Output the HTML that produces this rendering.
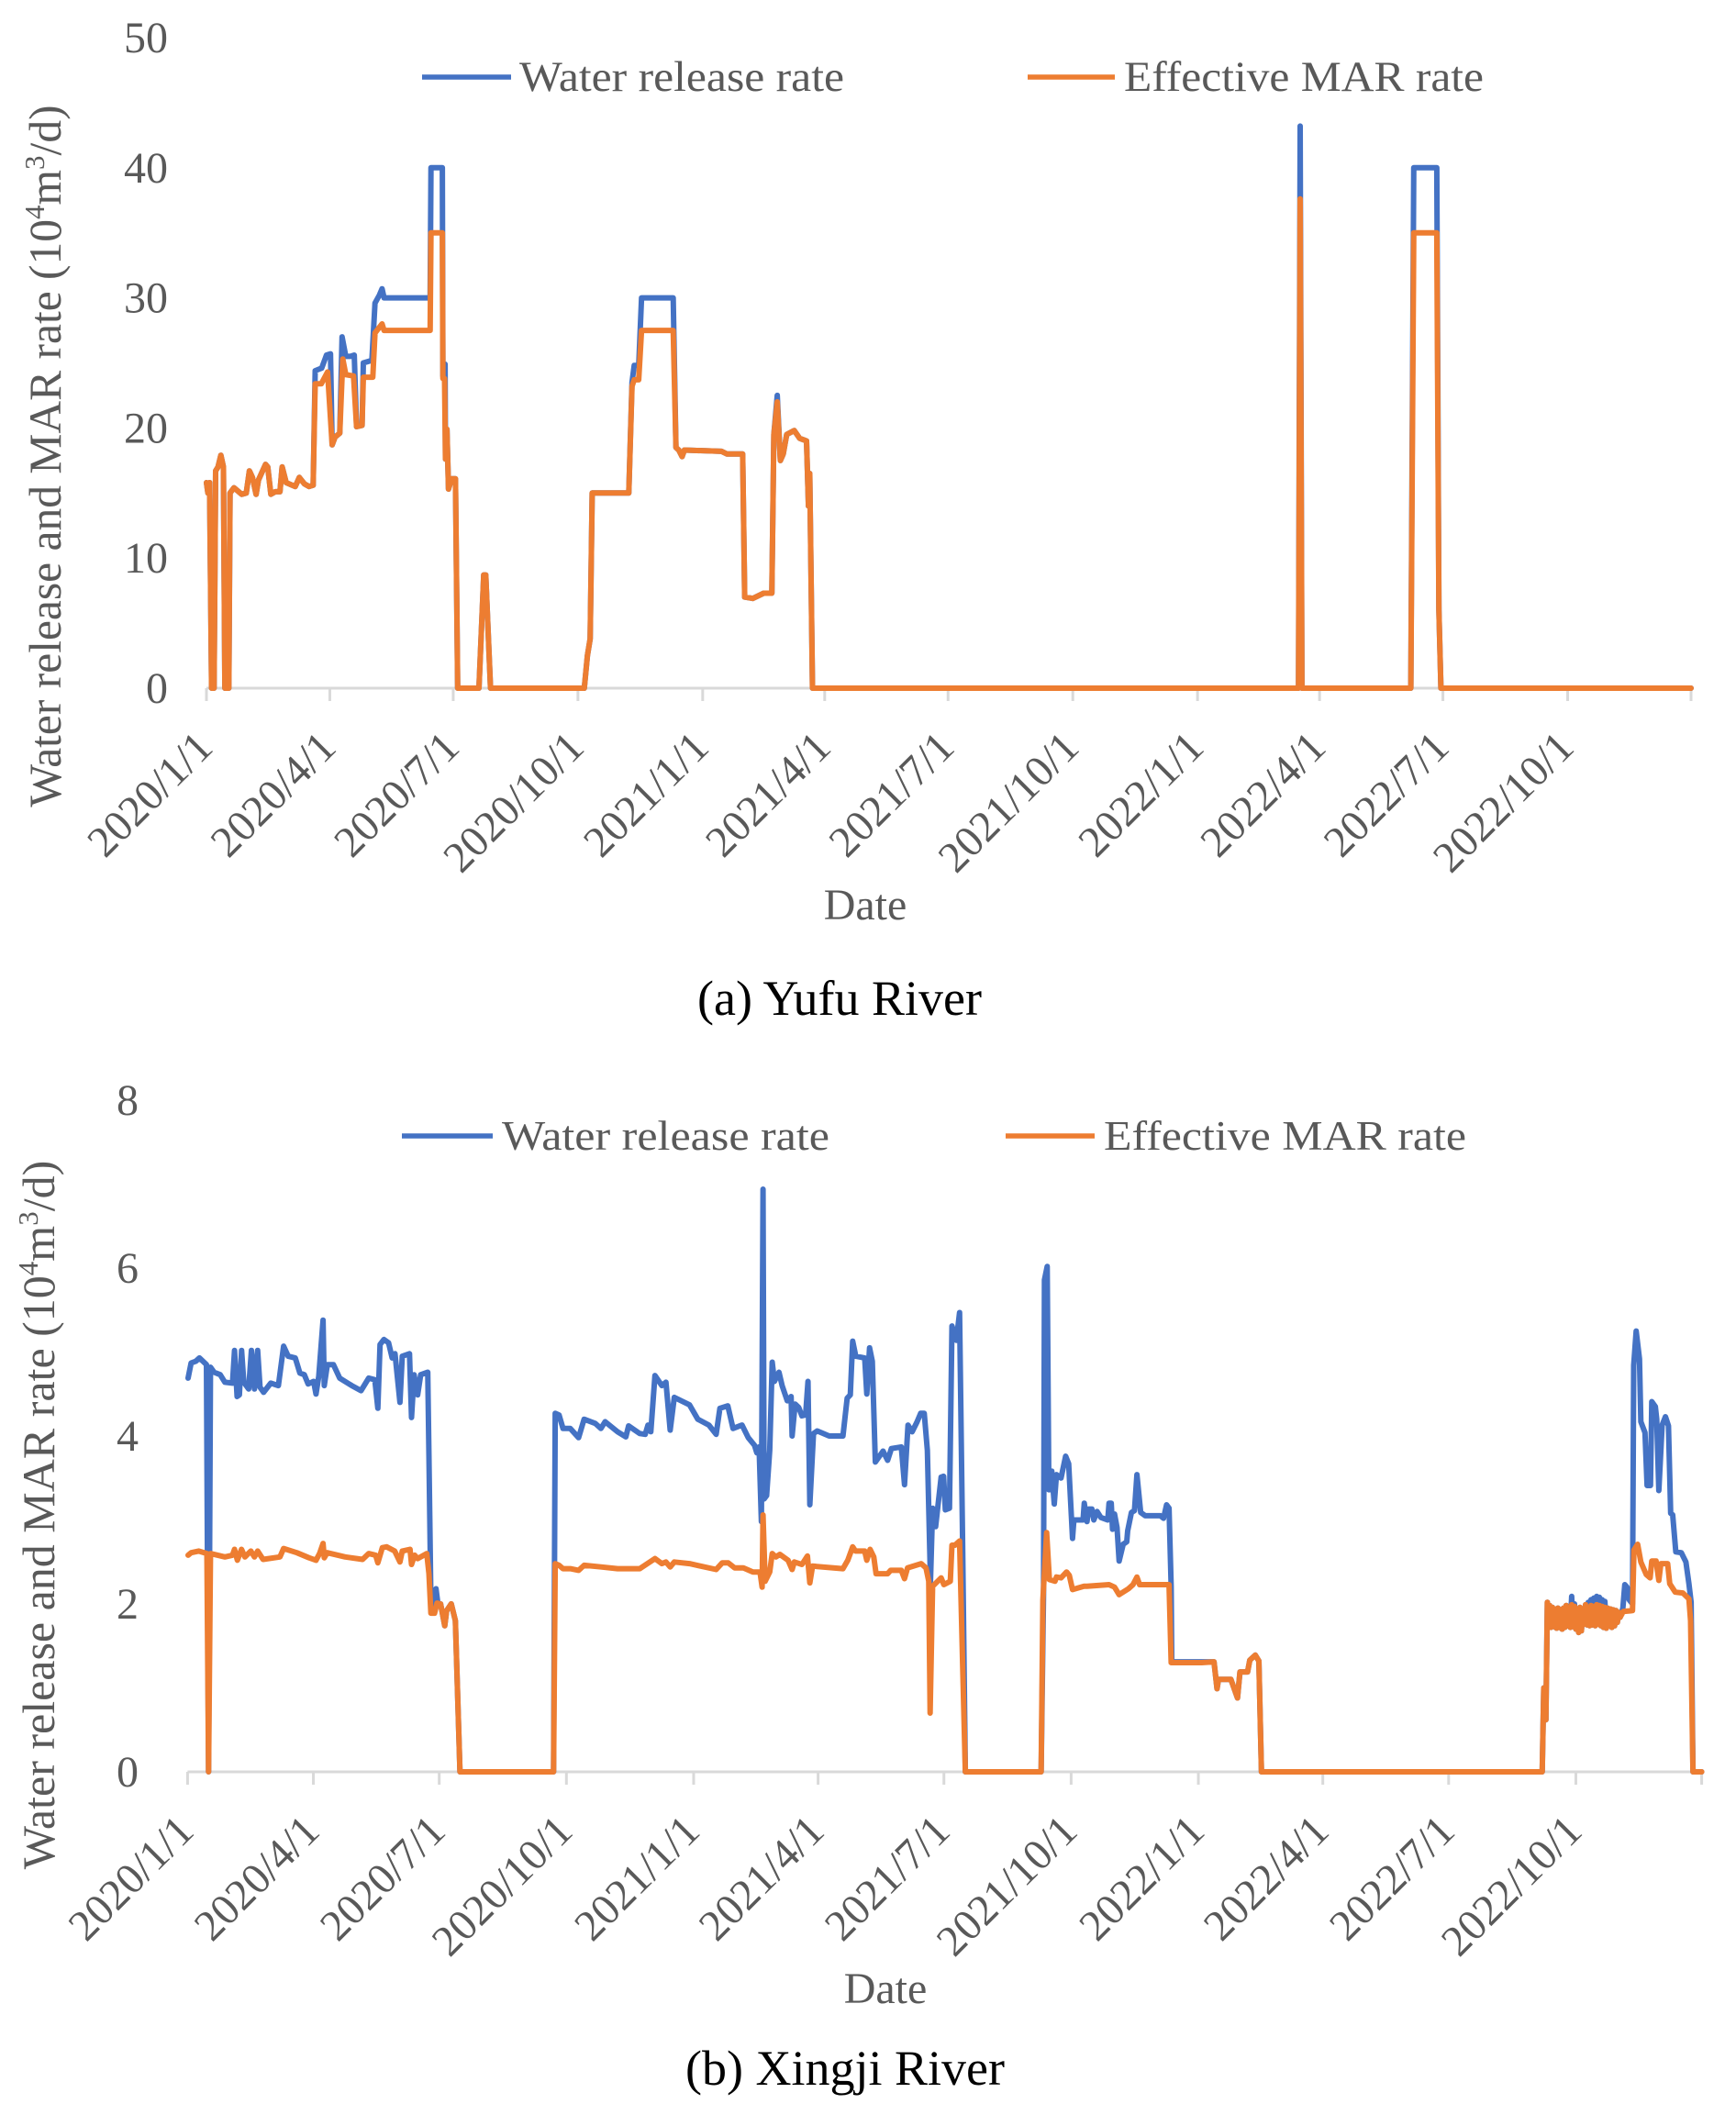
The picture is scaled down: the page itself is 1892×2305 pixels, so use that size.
<!DOCTYPE html>
<html lang="en">
<head>
<meta charset="utf-8">
<title>Water release and effective MAR rate</title>
<style>
html,body{margin:0;padding:0;background:#fff;}
svg{display:block;}
text{font-family:"Liberation Serif",serif;fill:#595959;}
.caption{fill:#000;}
</style>
</head>
<body>
<svg id="figure" xmlns="http://www.w3.org/2000/svg" width="1892" height="2305" viewBox="0 0 1892 2305">
  <rect width="1892" height="2305" fill="#fff"/>
  <g id="chart-a"></g>
  <g id="chart-b"></g>

  <g>
    <line x1="460" x2="557" y1="84" y2="84" stroke="#4472c4" stroke-width="5.5"/>
    <text x="566" y="99" font-size="47" textLength="354" lengthAdjust="spacingAndGlyphs">Water release rate</text>
    <line x1="1120" x2="1215" y1="84" y2="84" stroke="#ed7d31" stroke-width="5.5"/>
    <text x="1225" y="99" font-size="47" textLength="392" lengthAdjust="spacingAndGlyphs">Effective MAR rate</text>
  </g>
  <text x="51" y="497" font-size="49.5" text-anchor="middle" transform="rotate(-90 51 497) translate(0 15)">Water release and MAR rate (10<tspan font-size="31" dy="-18">4</tspan><tspan dy="18">m</tspan><tspan font-size="31" dy="-18">3</tspan><tspan dy="18">/d)</tspan></text>
  <text x="943" y="1002" font-size="48" text-anchor="middle">Date</text>
  <text class="caption" x="915" y="1106" font-size="54" text-anchor="middle">(a) Yufu River</text>

  <g>
    <line x1="438" x2="537" y1="1238" y2="1238" stroke="#4472c4" stroke-width="5.5"/>
    <text x="547" y="1253" font-size="45" textLength="357" lengthAdjust="spacingAndGlyphs">Water release rate</text>
    <line x1="1096" x2="1193" y1="1238" y2="1238" stroke="#ed7d31" stroke-width="5.5"/>
    <text x="1203" y="1253" font-size="45" textLength="395" lengthAdjust="spacingAndGlyphs">Effective MAR rate</text>
  </g>
  <text x="44" y="1651" font-size="50" text-anchor="middle" transform="rotate(-90 44 1651) translate(0 15)">Water release and MAR rate (10<tspan font-size="31" dy="-18">4</tspan><tspan dy="18">m</tspan><tspan font-size="31" dy="-18">3</tspan><tspan dy="18">/d)</tspan></text>
  <text x="965" y="2183" font-size="48" text-anchor="middle">Date</text>
  <text class="caption" x="921" y="2272" font-size="54" text-anchor="middle">(b) Xingji River</text>
</svg>

<script>
// ---- shared category labels (quarter starts on the date axis) ----
const xTickLabels = ["2020/1/1","2020/4/1","2020/7/1","2020/10/1","2021/1/1","2021/4/1","2021/7/1","2021/10/1","2022/1/1","2022/4/1","2022/7/1","2022/10/1"];
const lastDay = 1095;

// ---- (a) Yufu River: days since 2020-01-01 and rates (10^4 m3/d) ----
const yufuTicks = [0,10,20,30,40,50];
const yufuReleaseDays = [0,1.1,2.3,3.8,5.6,6.8,8.5,10.6,12.5,13.6,16.5,17.4,20.3,26,29.4,31.7,33.9,36.6,38.4,43.6,45.2,47.5,50.8,54.2,55.8,58.8,65.5,68.5,72.3,75.7,78.7,80.2,85,88.5,91.5,92.7,94.9,98.3,100,102.8,106,109,110.7,114.8,115.7,122,124.3,127.5,129.5,131,165,165.6,174,174.4,175.6,176,176.3,177.4,178.5,180.8,183.7,185.3,201,204.5,206,209.5,278.7,281,283,284.5,311.5,313.9,315.5,318.8,320.9,344.3,346.3,348.4,350.8,352.5,380,384,395.5,397,403,411,417,418.5,421,423.3,425.4,428,433.5,437.5,442.6,444,445,447,805.5,806.7,808,888.3,890.5,907.5,909,910.5,1095];
const yufuReleaseValues = [15.8,15,15.8,0,0,16.7,17,17.9,17,0,0,15,15.4,14.9,15,16.7,16.2,14.9,16,17.2,17,14.9,15.1,15.1,17,15.8,15.5,16.2,15.7,15.5,15.6,24.4,24.6,25.6,25.7,18.7,19.3,19.6,27,25.5,25.5,25.6,20.1,20.2,25,25.2,29.6,30.2,30.7,30,30,40,40,24,24,24.9,17.6,19.9,15.3,16.1,16.1,0,0,8.7,8.7,0,0,2.5,3.8,15,15,23.5,24.8,24.8,30,30,18.5,18.3,17.8,18.3,18.2,18,18,7,6.9,7.3,7.3,19.5,22.5,17.5,18,19.5,19.8,19.2,19,14,16.5,0,0,43.2,0,0,40,40,6,0,0];
const yufuMarDays = [0,1.1,2.3,3.8,5.6,6.8,8.5,10.6,12.5,13.6,16.5,17.4,20.3,26,29.4,31.7,33.9,36.6,38.4,43.6,45.2,47.5,50.8,54.2,55.8,58.8,65.5,68.5,72.3,75.7,78.7,80.2,84.7,89.3,92.7,94.9,98.3,100.6,102.8,108.5,110.7,114.8,115.7,122.7,124.3,129.5,131,165,165.6,174,174.4,175.6,176.3,177.4,178.5,180.8,183.7,185.3,201,204.5,206,209.5,278.7,281,283,284.5,311.5,313.9,315.5,318.8,320.9,344.3,346.3,348.4,350.8,352.5,380,384,395.5,397,403,411,417,418.5,421,423.3,425.4,428,433.5,437.5,442.6,444,445,447,805.5,806.7,808,888.3,890.5,907.5,909,910.5,1095];
const yufuMarValues = [15.8,15,15.8,0,0,16.7,17,17.9,17,0,0,15,15.4,14.9,15,16.7,16.2,14.9,16,17.2,17,14.9,15.1,15.1,17,15.8,15.5,16.2,15.7,15.5,15.6,23.4,23.4,24.3,18.7,19.3,19.6,25.3,24.1,24,20.1,20.2,23.9,23.9,27.3,28,27.5,27.5,35,35,23.8,23.8,17.6,19.9,15.3,16.1,16.1,0,0,8.7,8.7,0,0,2.5,3.8,15,15,23.2,23.7,23.7,27.5,27.5,18.5,18.3,17.8,18.3,18.2,18,18,7,6.9,7.3,7.3,19.5,22,17.5,18,19.5,19.8,19.2,19,14,16.5,0,0,37.6,0,0,35,35,6,0,0];

// ---- (b) Xingji River ----
const xingjiTicks = [0,2,4,6,8];
const xingjiReleaseDays = [0.4,2.6,5.9,8.6,13.7,15.2,16.6,19.2,23.6,27,32.5,34,35.8,37.5,39.1,40.7,44.2,46.2,48.4,50.7,52.4,55,60.2,65.7,69.5,72.8,77.9,81.2,84.5,87.2,91.2,92.9,94.9,98,98.9,101.1,105.5,110,118.8,125.5,131,135.4,137.6,139.2,142,145.4,148,150,153.6,155.3,160.5,162,163.8,166.4,168.6,173.7,174.6,176,178,179.7,181,183,186,187.4,190.7,193.7,197,264.7,265.9,268.7,271.5,276.8,282.8,286.8,294.9,298.9,302,311,317,319,327,331,333,335,338,343,346,349,352,363,369,377,382.3,385,390.7,394.5,401,405.5,410,411.7,413.3,415,416.2,417,418.8,421,422.8,424.4,427.7,430,433.7,436.5,437.2,439.4,442,444.3,447,448.7,450,452.7,455.4,464,474,477,479.3,481,483.3,489.7,491.2,493.2,495.2,497.4,503,506.3,509,516.2,518.5,521,524,527.3,530.2,532.8,535,537.3,538.8,541,545,546.8,548,551,552.8,556,558.3,560.5,562.5,616,617.3,619,619.7,621.7,622.9,625,626.8,628.4,631.7,635,637.2,640,641,647.6,648.5,650.5,651.6,654,655.4,657.8,660.5,665.5,666.4,668,668.9,670.4,672.2,673.7,676.6,679.2,679.9,682.6,684.8,686.6,689.3,692.6,703.6,705.8,708,709.8,711.3,711.8,742.3,744.5,745.6,754.5,759.3,761.1,766.6,768.2,772.2,774.8,776.6,979.7,980.8,982.3,983.4,984,985,986,987,988,989,990,991,992,993,994,995,996,997,998,999,1000,1001,1002,1003,1004,1005,1006,1007,1008,1009,1010,1011,1012,1013,1014,1015,1016,1017,1018,1019,1020,1021,1022,1023,1024,1025,1026,1027,1028,1029,1030,1031,1032,1033,1034,1035,1036,1038,1039.4,1041,1042.5,1045,1045.8,1047.6,1050,1051,1054,1055.5,1058,1058.9,1061.5,1062.5,1064,1066.4,1068.8,1071,1072.6,1074,1076.3,1080.3,1083.6,1085.8,1087.4,1088.7,1095];
const xingjiReleaseValues = [4.69,4.87,4.89,4.93,4.85,0,4.82,4.76,4.73,4.64,4.63,5.02,4.47,4.49,5.02,4.64,4.56,5.02,4.56,5.02,4.58,4.52,4.63,4.6,5.07,4.95,4.93,4.75,4.73,4.62,4.65,4.5,4.71,5.38,4.6,4.85,4.85,4.69,4.6,4.54,4.69,4.67,4.33,5.09,5.15,5.11,4.93,4.98,4.4,4.95,4.98,4.22,4.73,4.49,4.73,4.76,3.76,2.05,1.95,2.18,2.01,2,1.74,1.92,2,1.8,0,0,4.27,4.25,4.09,4.09,3.98,4.2,4.15,4.09,4.17,4.05,3.99,4.12,4.03,4.02,4.13,4.05,4.72,4.6,4.64,4.07,4.46,4.37,4.2,4.13,4.02,4.33,4.36,4.09,4.13,3.98,3.89,3.8,3.87,2.98,6.94,3.25,3.29,3.83,4.88,4.65,4.76,4.6,4.42,4.47,4,4.38,4.34,4.24,4.25,4.65,3.18,4.03,4.06,4,4,4.45,4.49,5.13,4.95,4.93,4.5,5.05,4.89,3.69,3.82,3.71,3.85,3.87,3.42,4.13,4.05,4.16,4.27,4.27,3.83,2.27,3.14,2.92,3.51,3.52,3.12,3.14,5.31,5.14,5.47,2.74,0,0,0,2.12,5.86,6.02,3.36,3.58,3.19,3.54,3.5,3.76,3.67,2.78,3,3,3.2,2.98,3.13,3.13,3,3.1,3.03,3,3.2,3.2,2.89,3.07,2.91,2.51,2.71,2.74,2.87,3.09,3.11,3.54,3.09,3.05,3.05,3.02,3.18,3.14,2.21,1.31,1.31,0.99,1.1,1.1,0.88,1.19,1.19,1.33,1.39,1.32,0,0,1,0.62,2.02,1.72,1.98,1.72,1.96,1.73,1.94,1.71,1.95,1.72,1.93,1.7,1.95,1.72,1.98,1.74,1.96,1.72,2.09,1.73,2,1.7,1.94,1.66,1.96,1.68,1.92,1.76,1.99,1.75,2.02,1.74,2.05,1.75,2.07,1.74,2.09,1.76,2.08,1.74,2.05,1.72,2.03,1.71,1.95,1.74,1.94,1.72,1.93,1.74,1.92,1.78,1.9,1.84,1.95,2.23,2.2,2.05,2,4.84,5.25,4.92,4.17,4.04,3.41,3.41,4.41,4.35,4.2,3.35,4.13,4.23,4.12,3.08,3.06,2.62,2.61,2.5,2.24,2.02,0,0];
const xingjiMarDays = [0.4,2.6,8,14,15.2,16.6,27,32.5,34,36,39,41.5,45.8,48.4,50.7,54.6,66.8,69.5,79,87.8,92.9,95.5,98,98.9,101,114,126.6,131,136,137.6,140.9,144,149.8,153.6,155.3,160.9,162,164.2,166.4,173,174.6,176,178.6,180.4,183,186,187.4,190.7,193.7,197,264.7,265.9,268.7,271.5,276.8,282.8,286.8,298.9,311,327,338,343,346,349,352,363,382.3,386.7,391,395.6,402,408.9,414,415.5,416.2,417.7,421,422.8,425.5,428.3,434.3,437.2,438.8,444.3,448.3,450,452,474,477.5,481,483,489.7,491.2,493.6,496.3,497.9,506.3,508.5,516.2,518.5,520.7,530.6,534,536,537,538.8,545,547,551.6,552.8,555,558.3,560.5,562.5,616,617.3,618.6,621.3,623.3,627.3,628.4,631.7,635.7,637.7,640,648.3,650.5,666.4,670.4,673.7,680.4,683.7,686.6,688.5,709.8,711.3,733.4,742.3,744.5,745.6,754.5,759.3,761.1,766.6,768.2,772.2,774.8,776.6,979.7,980.8,982.3,983.4,984,985,986,987,988,989,990,991,992,993,994,995,996,997,998,999,1000,1001,1002,1003,1004,1005,1006,1007,1008,1009,1010,1011,1012,1013,1014,1015,1016,1017,1018,1019,1020,1021,1022,1023,1024,1025,1026,1027,1028,1029,1030,1031,1032,1033,1034,1035,1036,1038.3,1045,1046,1048.7,1051,1054.9,1057.7,1058.9,1062,1064,1065.5,1070.4,1071.9,1075.9,1081.4,1085.8,1087,1088.7,1095];
const xingjiMarValues = [2.58,2.61,2.63,2.6,0,2.6,2.56,2.58,2.65,2.52,2.65,2.56,2.63,2.56,2.63,2.53,2.56,2.66,2.61,2.55,2.52,2.6,2.72,2.55,2.61,2.56,2.53,2.6,2.58,2.49,2.67,2.68,2.63,2.5,2.63,2.65,2.47,2.58,2.54,2.6,2.36,1.89,1.89,2.01,2,1.74,1.92,2,1.8,0,0,2.48,2.46,2.42,2.42,2.4,2.46,2.44,2.42,2.42,2.54,2.48,2.5,2.44,2.5,2.48,2.41,2.49,2.49,2.43,2.43,2.38,2.38,2.2,3.06,2.27,2.38,2.6,2.56,2.59,2.52,2.41,2.5,2.47,2.57,2.25,2.45,2.42,2.52,2.68,2.63,2.63,2.52,2.65,2.56,2.36,2.36,2.4,2.4,2.3,2.43,2.48,2.43,2.27,0.7,2.21,2.31,2.23,2.27,2.7,2.7,2.75,1.3,0,0,0,2.05,2.85,2.29,2.27,2.32,2.31,2.38,2.34,2.17,2.21,2.21,2.23,2.2,2.11,2.18,2.23,2.32,2.23,2.23,1.3,1.3,1.31,0.99,1.1,1.1,0.88,1.19,1.19,1.33,1.39,1.32,0,0,1,0.62,2.02,1.72,1.98,1.72,1.96,1.73,1.94,1.71,1.95,1.72,1.93,1.7,1.95,1.72,1.98,1.74,1.96,1.72,1.99,1.73,1.97,1.7,1.94,1.66,1.96,1.68,1.92,1.76,1.99,1.75,1.96,1.74,1.98,1.75,1.97,1.74,1.99,1.76,1.98,1.74,1.97,1.72,1.96,1.71,1.95,1.74,1.94,1.72,1.93,1.74,1.92,1.78,1.9,1.84,1.91,1.92,2.64,2.71,2.5,2.35,2.31,2.51,2.51,2.28,2.48,2.48,2.24,2.14,2.13,2.06,1.8,0,0];

const SVG_NS = "http://www.w3.org/2000/svg";

function dayOf(label) {
  const p = label.split("/").map(Number);
  return (Date.UTC(p[0], p[1] - 1, p[2]) - Date.UTC(2020, 0, 1)) / 86400000;
}

function drawSeries(group, days, values, xScale, yScale, color, name) {
  let d = "";
  for (let i = 0; i < days.length; i++) {
    d += (i ? "L" : "M") + xScale(days[i]).toFixed(1) + " " + yScale(values[i]).toFixed(1);
  }
  const path = document.createElementNS(SVG_NS, "path");
  path.setAttribute("d", d);
  path.setAttribute("fill", "none");
  path.setAttribute("stroke", color);
  path.setAttribute("stroke-width", "6");
  path.setAttribute("stroke-linejoin", "round");
  path.setAttribute("stroke-linecap", "round");
  
  
  group.appendChild(path);
}

function drawAxes(group, geom, yTicks, yMax, xScale, yScale) {
  const axis = document.createElementNS(SVG_NS, "line");
  axis.setAttribute("x1", geom.x0);
  axis.setAttribute("x2", geom.x1);
  axis.setAttribute("y1", geom.y0);
  axis.setAttribute("y2", geom.y0);
  axis.setAttribute("stroke", "#d9d9d9");
  axis.setAttribute("stroke-width", "3");
  
  
  group.appendChild(axis);

  const tickDays = xTickLabels.map(dayOf).concat([lastDay]);
  tickDays.forEach(function (day) {
    const t = document.createElementNS(SVG_NS, "line");
    t.setAttribute("x1", xScale(day));
    t.setAttribute("x2", xScale(day));
    t.setAttribute("y1", geom.y0);
    t.setAttribute("y2", geom.y0 + 14);
    t.setAttribute("stroke", "#d9d9d9");
    t.setAttribute("stroke-width", "3");
    
    
    group.appendChild(t);
  });

  xTickLabels.forEach(function (label) {
    const tx = document.createElementNS(SVG_NS, "text");
    const px = xScale(dayOf(label)) + 9;
    const py = geom.y0 + 67;
    tx.setAttribute("x", px);
    tx.setAttribute("y", py);
    tx.setAttribute("font-size", "47.5");
    tx.setAttribute("text-anchor", "end");
    tx.setAttribute("transform", "rotate(-45 " + px + " " + py + ")");
    tx.textContent = label;
    
    
    group.appendChild(tx);
  });

  yTicks.forEach(function (v) {
    const ty = document.createElementNS(SVG_NS, "text");
    ty.setAttribute("x", geom.labelX);
    ty.setAttribute("y", yScale(v) + 16);
    ty.setAttribute("font-size", "48");
    ty.setAttribute("text-anchor", "end");
    ty.textContent = String(v);
    
    
    group.appendChild(ty);
  });
}

function drawChart(id, geom, yTicks, yMax, relD, relV, marD, marV) {
  const group = document.getElementById(id);
  const xScale = function (d) { return geom.x0 + d * (geom.x1 - geom.x0) / lastDay; };
  const yScale = function (v) { return geom.y0 - v * (geom.y0 - geom.yTop) / yMax; };
  drawAxes(group, geom, yTicks, yMax, xScale, yScale);
  drawSeries(group, relD, relV, xScale, yScale, "#4472c4", "water-release-rate-line");
  drawSeries(group, marD, marV, xScale, yScale, "#ed7d31", "effective-mar-rate-line");
}

drawChart("chart-a", {x0: 225, x1: 1843, y0: 750, yTop: 41, labelX: 183}, yufuTicks, 50,
  yufuReleaseDays, yufuReleaseValues, yufuMarDays, yufuMarValues);
drawChart("chart-b", {x0: 204.4, x1: 1854.6, y0: 1931, yTop: 1199, labelX: 151}, xingjiTicks, 8,
  xingjiReleaseDays, xingjiReleaseValues, xingjiMarDays, xingjiMarValues);
</script>
</body>
</html>
